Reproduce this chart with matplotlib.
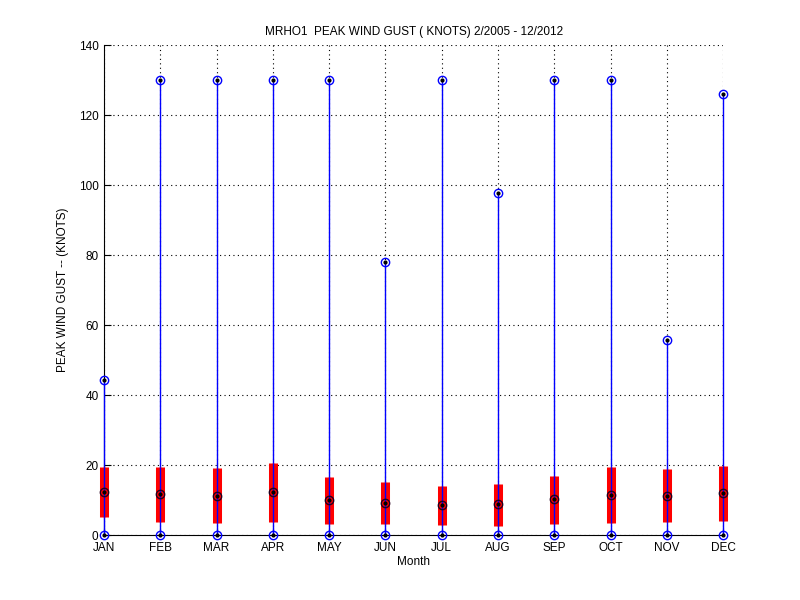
import numpy as np
import matplotlib
matplotlib.use('Agg')
import matplotlib.pyplot as plt

plt.rcParams['font.family'] = ['Liberation Sans', 'DejaVu Sans']

months = ['JAN', 'FEB', 'MAR', 'APR', 'MAY', 'JUN', 'JUL', 'AUG', 'SEP', 'OCT', 'NOV', 'DEC']
gust_min = [0, 0, 0, 0, 0, 0, 0, 0, 0, 0, 0, 0]
gust_max = [44.4, 130, 130, 130, 130, 77.9, 130, 97.6, 130, 130, 55.7, 126]
q25 = [5.2, 3.8, 3.5, 3.8, 3.2, 3.2, 2.9, 2.7, 3.2, 3.6, 3.8, 4.1]
q75 = [19.4, 19.4, 19.1, 20.6, 16.6, 15.1, 14.0, 14.7, 16.9, 19.4, 18.9, 19.7]
median = [12.3, 11.7, 11.3, 12.3, 10.0, 9.1, 8.6, 8.9, 10.3, 11.5, 11.3, 12.0]

x = np.arange(1, len(months) + 1)

fig = plt.figure(figsize=(8, 6), dpi=100)
ax = fig.add_axes([0.13, 0.108, 0.774, 0.817])

# whiskers min -> max (drawn above the spine so JAN stays blue)
ax.vlines(x, gust_min, gust_max, color='#0000ff', lw=1, zorder=2.6, clip_on=False)
# interquartile box
ax.vlines(x, q25, q75, color='#ff0000', lw=6.5, zorder=3, clip_on=False)
ax.vlines(x, q25, q75, color='#0000ff', lw=1, zorder=4, clip_on=False)

# end markers
for vals in [gust_min, gust_max]:
    ax.plot(x, vals, 'o', ms=6, mfc='none', mec='#0000ff', mew=1, zorder=5, clip_on=False)
    ax.plot(x, vals, '.', ms=4, color='black', zorder=6, clip_on=False)
ax.plot(x, median, 'o', ms=6, mfc='none', mec='#200020', mew=1, zorder=5, clip_on=False)
ax.plot(x, median, '.', ms=4, color='black', zorder=6, clip_on=False)

ax.set_xlim(1, 12)
ax.set_ylim(0, 140)
ax.set_xticks(x)
ax.set_xticklabels(months)
ax.set_yticks(np.arange(0, 141, 20))
ax.tick_params(direction='in', length=5, labelsize=8.5)
ax.tick_params(axis='x', pad=5)
ax.tick_params(axis='y', pad=4)
ax.grid(True, color='black', linestyle=(0, (1, 3)), linewidth=0.8)
ax.set_axisbelow(True)
ax.spines['top'].set_visible(False)
ax.spines['right'].set_visible(False)
ax.set_title('MRHO1  PEAK WIND GUST ( KNOTS) 2/2005 - 12/2012', fontsize=8.5, pad=7)
ax.set_xlabel('Month', fontsize=8.5, labelpad=1)
ax.set_ylabel('PEAK WIND GUST -- (KNOTS)', fontsize=8.5)
ax.yaxis.set_label_coords(-0.056, 0.5)

fig.savefig('out.png', dpi=100)
